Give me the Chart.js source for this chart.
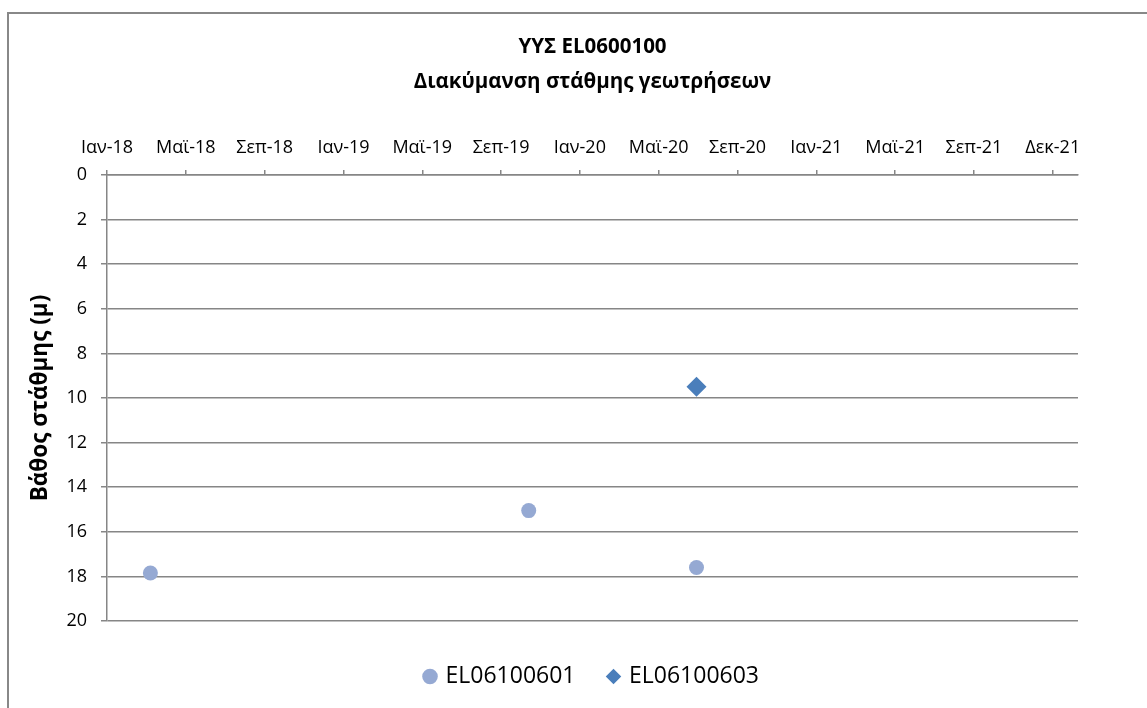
<!DOCTYPE html>
<html>
<head>
<meta charset="utf-8">
<script src="https://cdn.jsdelivr.net/npm/chart.js@4"></script>
<style>
  html, body { margin: 0; padding: 0; background: #fff; overflow: hidden; }
  #frame { position: absolute; left: 7px; top: 12px; width: 1300px; height: 900px;
           border-left: 2px solid #888; border-top: 2px solid #888; }
  #wrap { position: absolute; left: 0; top: 0; width: 1147px; height: 708px; }
</style>
</head>
<body>
<div id="frame"></div>
<div id="wrap"><canvas id="chart" width="1147" height="708"></canvas></div>
<script>
// ---- data ----
const tickLabels = ["Ιαν-18", "Μαϊ-18", "Σεπ-18", "Ιαν-19", "Μαϊ-19", "Σεπ-19", "Ιαν-20",
  "Μαϊ-20", "Σεπ-20", "Ιαν-21", "Μαϊ-21", "Σεπ-21", "Δεκ-21"];

const well601Dates = ["2018-03-09", "2019-10-14", "2020-06-29"];
const well601Depth = [17.85, 15.05, 17.6];

const well603Dates = ["2020-06-29"];
const well603Depth = [9.5];

// ---- axis helpers ----
const START = Date.UTC(2018, 0, 1);
const DAY = 86400000;
const TICK_STEP = 1460 / 12;          // days between labelled ticks
const X_MAX = TICK_STEP * 12.32;      // axis runs a bit past the last label

const toDays = d => (Date.parse(d) - START) / DAY;
const points = (dates, depths) => dates.map((d, i) => ({ x: toDays(d), y: depths[i] }));

const GRID = "#868686";
const FONT = "'Open Sans', 'DejaVu Sans', sans-serif";

new Chart(document.getElementById("chart"), {
  type: "scatter",
  data: {
    datasets: [
      {
        label: "EL06100601",
        data: points(well601Dates, well601Depth),
        pointStyle: "circle",
        pointRadius: 7.5,
        pointHoverRadius: 7.5,
        pointBorderWidth: 0,
        backgroundColor: "#95a9d3",
        borderColor: "#95a9d3"
      },
      {
        label: "EL06100603",
        data: points(well603Dates, well603Depth),
        pointStyle: "rectRot",
        pointRadius: 10,
        pointHoverRadius: 10,
        pointBorderWidth: 0,
        backgroundColor: "#4a7ebb",
        borderColor: "#4a7ebb"
      }
    ]
  },
  options: {
    responsive: false,
    animation: false,
    layout: { padding: { left: 0, right: 69, top: 0, bottom: 10 } },
    plugins: {
      title: {
        display: true,
        fullSize: false,
        text: ["ΥΥΣ EL0600100", "Διακύμανση στάθμης γεωτρήσεων"],
        color: "#000",
        font: { family: FONT, size: 20.5, weight: "bold", lineHeight: "35px" },
        padding: { top: 30, bottom: 0 }
      },
      legend: {
        position: "bottom",
        fullSize: false,
        // empty title only used as spacer above the items
        title: { display: true, text: "", font: { size: 1, lineHeight: 1 }, padding: { top: 9, bottom: 0 } },
        labels: {
          usePointStyle: true,
          boxWidth: 8,
          boxHeight: 11,
          padding: 34,
          color: "#000",
          font: { family: FONT, size: 23 }
        }
      },
      tooltip: { enabled: false }
    },
    scales: {
      x: {
        type: "linear",
        position: "top",
        min: 0,
        max: X_MAX,
        afterBuildTicks: s => { s.ticks = tickLabels.map((_, i) => ({ value: i * TICK_STEP })); },
        afterFit: s => { s.height = 75; },
        ticks: {
          autoSkip: false,
          maxRotation: 0,
          padding: 11,
          color: "#000",
          font: { family: FONT, size: 18 },
          callback: (v, i) => tickLabels[i]
        },
        grid: { drawOnChartArea: false, tickLength: 5, color: GRID, lineWidth: 1.5 },
        border: { display: true, color: GRID, width: 1.5 }
      },
      y: {
        reverse: true,
        min: 0,
        max: 20,
        afterFit: s => { s.width = 107; },
        ticks: {
          stepSize: 2,
          padding: 14,
          color: "#000",
          font: { family: FONT, size: 18 }
        },
        grid: { color: GRID, tickLength: 6, lineWidth: 1.5 },
        border: { display: true, color: GRID, width: 1.5 },
        title: {
          display: true,
          text: "Βάθος στάθμης (μ)",
          color: "#000",
          font: { family: FONT, size: 22.5, weight: "bold" },
          padding: { top: 27, bottom: 0 }
        }
      }
    }
  }
});
</script>
</body>
</html>
